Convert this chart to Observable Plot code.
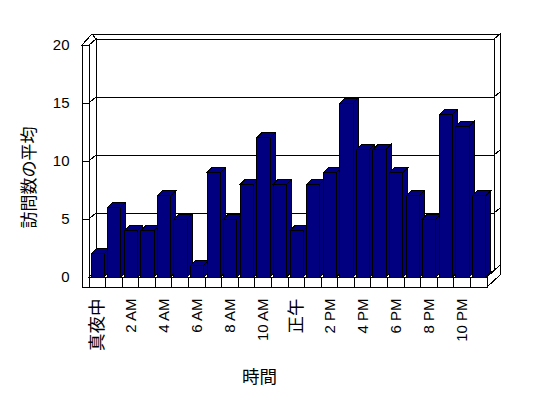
<!DOCTYPE html>
<html>
<head>
<meta charset="utf-8">
<script src="https://cdn.jsdelivr.net/npm/d3@7"></script>
<script src="https://cdn.jsdelivr.net/npm/@observablehq/plot@0.6"></script>
<style>
  html, body { margin: 0; padding: 0; background: #fff; }
  #chart svg { display: block; }
</style>
</head>
<body>
<div id="chart"></div>
<script>
// ---- data ----
const hours = [0,1,2,3,4,5,6,7,8,9,10,11,12,13,14,15,16,17,18,19,20,21,22,23];
const visits = [2,6,4,4,7,5,1,9,5,8,12,8,4,8,9,15,11,11,9,7,5,14,13,7];
const tickHours = [0,2,4,6,8,10,12,14,16,18,20,22];
const tickLabels = ["真夜中","2 AM","4 AM","6 AM","8 AM","10 AM","正午","2 PM","4 PM","6 PM","8 PM","10 PM"];
const yTicks = [0,5,10,15,20];
const yTitle = "訪問数の平均";
const xTitle = "時間";

const data = hours.map((h, i) => ({hour: h, value: visits[i]}));

// ---- styling constants (3D look) ----
const NAVY = "#000080";
const BAR_D = [5, -5];      // bar depth offset
const WALL_D = [7, -6];     // back-wall plane offset
const OUT_L = [10, -11];    // outer slab offset (left)
const OUT_R = [13, -12];    // outer slab offset (right)
const WALL_W = 7;           // left wall thickness
const FLOOR_H = 10;         // floor thickness
const INSET_L = 2, INSET_R = 1.3;
const CJK_FONT = "'Noto Sans CJK JP', sans-serif";

const isCJK = s => /[\u3040-\u30ff\u4e00-\u9fff]/.test(s);
const path = pts => d3.line()(pts) + "Z";
const bwOf = x => (typeof x.bandwidth === "function" ? x.bandwidth() : x.bandwidth);

function frame(x, y) {
  const bw = bwOf(x);
  const X0 = x(hours[0]), X1 = x(hours[hours.length - 1]) + bw;
  const Yt = y(yTicks[yTicks.length - 1]), Yb = y(0);
  const Xw = X0 - WALL_W, Yf = Yb + FLOOR_H;
  const [dx, dy] = WALL_D;
  return {bw, X0, X1, Yt, Yb, Xw, Yf, dx, dy};
}

// walls, floor and grid
function structure(index, scales) {
  const {x, y} = scales;
  const {X0, X1, Yt, Yb, Xw, Yf, dx, dy} = frame(x, y);
  const g = d3.create("svg:g").attr("fill", "white").attr("stroke", "black").attr("stroke-width", 1);
  const poly = pts => g.append("path").attr("d", path(pts));
  poly([[X0+dx, Yt+dy], [X1+dx, Yt+dy], [X1+dx, Yb+dy], [X0+dx, Yb+dy]]);                                   // back wall
  poly([[Xw+OUT_L[0], Yt+OUT_L[1]], [X1+OUT_R[0], Yt+OUT_L[1]], [X1+dx, Yt+dy], [X0+dx, Yt+dy]]);           // back wall top
  poly([[X1+dx, Yt+dy], [X1+OUT_R[0], Yt+OUT_L[1]], [X1+OUT_R[0], Yb+OUT_R[1]], [X1+dx, Yb+dy]]);           // back wall right side
  poly([[X0, Yt], [X0+dx, Yt+dy], [X0+dx, Yb+dy], [X0, Yb]]);                                               // left wall inner
  poly([[Xw, Yt], [X0, Yt], [X0+dx, Yt+dy], [Xw+OUT_L[0], Yt+OUT_L[1]]]);                                   // left wall top
  poly([[Xw, Yt], [X0, Yt], [X0, Yf], [Xw, Yf]]);                                                           // left wall front
  poly([[X0, Yb], [X1, Yb], [X1+dx, Yb+dy], [X0+dx, Yb+dy]]);                                               // floor top
  poly([[X1, Yb], [X1, Yf], [X1+OUT_R[0], Yf+OUT_R[1]], [X1+OUT_R[0], Yb+OUT_R[1]]]);                       // floor right side
  poly([[X0, Yb], [X1, Yb], [X1, Yf], [X0, Yf]]);                                                           // floor front
  for (const h of hours) {
    const xx = x(h);
    g.append("line").attr("x1", xx).attr("x2", xx).attr("y1", Yb).attr("y2", Yf);
  }
  for (const v of yTicks) {
    if (v === 0) continue;
    const yy = y(v);
    g.append("path").attr("fill", "none").attr("d", d3.line()([
      [Xw, yy], [X0, yy], [X0+dx, yy+dy], [X1+dx, yy+dy], [X1+OUT_R[0], yy+OUT_L[1]]
    ]));
  }
  return g.node();
}

// bar sides and tops
function barDepth(index, scales) {
  const {x, y} = scales;
  const bw = bwOf(x);
  const g = d3.create("svg:g").attr("fill", NAVY).attr("stroke", "black").attr("stroke-width", 1);
  const [bx, by] = BAR_D;
  for (const d of data) {
    const x0 = x(d.hour) + INSET_L, x1 = x(d.hour) + bw - INSET_R;
    const yt = y(d.value), yb = y(0);
    g.append("path").attr("d", path([[x1, yt], [x1+bx, yt+by], [x1+bx, yb+by], [x1, yb]]));
    g.append("path").attr("d", path([[x0, yt], [x1, yt], [x1+bx, yt+by], [x0+bx, yt+by]]));
  }
  return g.node();
}

const chart = Plot.plot({
  width: 548,
  height: 398,
  marginLeft: 89,
  marginRight: 61,
  marginTop: 45,
  marginBottom: 121,
  style: {
    fontFamily: "'Liberation Sans', Arial, 'Noto Sans CJK JP', sans-serif",
    background: "white",
    color: "black",
    shapeRendering: "crispEdges"
  },
  x: {type: "band", domain: hours, padding: 0, round: false, axis: null},
  y: {domain: [0, 20], axis: null},
  marks: [
    structure,
    barDepth,
    Plot.barY(data, {x: "hour", y: "value", fill: NAVY, stroke: "black", strokeWidth: 1,
      insetLeft: INSET_L, insetRight: INSET_R}),
    Plot.text(yTicks, {y: d => d, text: d => String(d), frameAnchor: "left", textAnchor: "end",
      lineAnchor: "middle", dx: -20, fontSize: 15, fill: "black"}),
    Plot.text(tickHours, {x: d => d, text: (d, i) => tickLabels[i], frameAnchor: "bottom",
      rotate: -90, textAnchor: "end", lineAnchor: "middle", dy: 21,
      fontSize: (d, i) => isCJK(tickLabels[i]) ? 17.5 : 15, fill: "black"}),
    Plot.text([yTitle], {text: d => d, frameAnchor: "left", rotate: -90, textAnchor: "middle",
      lineAnchor: "middle", dx: -60, dy: 16, fontSize: 17, fontFamily: CJK_FONT, fill: "black"}),
    Plot.text([xTitle], {text: d => d, frameAnchor: "bottom", textAnchor: "middle",
      lineAnchor: "middle", dx: -29, dy: 100, fontSize: 17.5, fontFamily: CJK_FONT, fill: "black"})
  ]
});
document.getElementById("chart").append(chart);
</script>
</body>
</html>
